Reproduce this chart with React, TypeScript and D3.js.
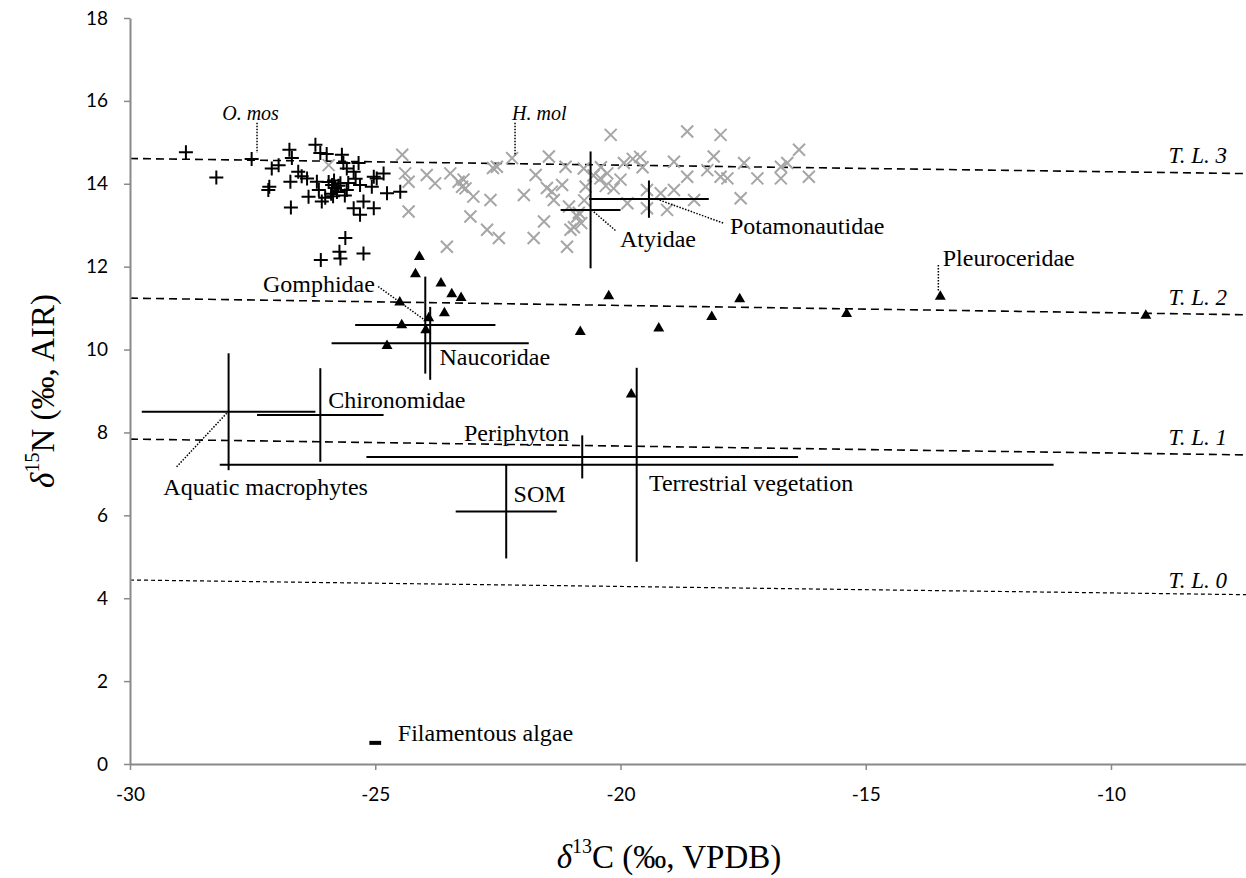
import React, { useEffect, useRef } from 'react';
import * as d3 from 'd3';

const xTicks = [-30, -25, -20, -15, -10];
const yTicks = [0, 2, 4, 6, 8, 10, 12, 14, 16, 18];

// O. mos individuals (black plus)
const omos: [number, number][] = [
  [-28.86, 14.76], [-28.24, 14.15], [-27.52, 14.6], [-27.18, 13.85], [-27.16, 13.93],
  [-27.11, 14.37], [-26.97, 14.45], [-26.75, 14.82], [-26.7, 14.62], [-26.73, 14.05],
  [-26.72, 13.43], [-26.57, 14.29], [-26.5, 14.18], [-26.39, 14.13], [-26.36, 13.69],
  [-26.22, 14.94], [-26.19, 14.05], [-26.12, 14.74], [-26.15, 13.85], [-26.09, 13.57],
  [-26.02, 13.66], [-25.99, 14.72], [-25.95, 14.04], [-25.9, 13.76], [-25.88, 13.97],
  [-25.84, 14.08], [-25.82, 13.9], [-25.78, 13.8], [-25.75, 13.95], [-25.86, 13.7],
  [-25.68, 14.7], [-25.65, 14.5], [-25.71, 14.01], [-25.62, 13.72], [-25.58, 13.85],
  [-25.55, 14.02], [-25.58, 14.37], [-25.44, 14.29], [-25.34, 14.5], [-25.4, 14.12],
  [-25.31, 13.97], [-25.24, 13.57], [-25.31, 13.25], [-25.44, 13.41], [-25.07, 13.93],
  [-25.03, 14.17], [-25.03, 13.41], [-24.97, 14.13], [-24.83, 14.25], [-24.76, 13.77],
  [-24.49, 13.81], [-25.61, 12.69], [-25.73, 12.36], [-25.71, 12.2], [-26.11, 12.16],
  [-25.24, 12.32],
];

// H. mol individuals (grey cross)
const hmol: [number, number][] = [
  [-25.95, 14.45], [-24.45, 14.7], [-24.39, 14.25], [-24.32, 14.05], [-24.32, 13.33],
  [-23.95, 14.21], [-23.78, 14.01], [-23.47, 14.25], [-23.3, 14.05], [-23.23, 13.93],
  [-23.16, 13.89], [-23.2, 14.1], [-23.0, 13.69], [-23.06, 13.21], [-22.65, 13.61],
  [-22.72, 12.89], [-22.48, 12.69], [-23.54, 12.48], [-22.52, 14.41], [-22.21, 14.62],
  [-22.6, 14.38], [-21.97, 13.73], [-21.73, 14.21], [-21.77, 12.69], [-21.56, 13.09],
  [-21.46, 14.66], [-21.4, 13.81], [-21.36, 13.61], [-21.5, 13.9], [-21.19, 13.97],
  [-21.12, 14.41], [-21.05, 13.45], [-21.09, 12.48], [-20.88, 13.21], [-20.8, 13.05],
  [-20.95, 12.95], [-20.85, 13.3], [-21.02, 12.89], [-20.75, 14.37], [-20.71, 13.93],
  [-20.74, 13.6], [-20.55, 14.2], [-20.41, 14.13], [-20.4, 14.4], [-20.3, 13.95],
  [-20.27, 14.25], [-20.2, 15.18], [-20.14, 13.89], [-20.0, 14.1], [-19.93, 14.5],
  [-19.86, 13.53], [-19.75, 14.6], [-19.6, 14.65], [-19.55, 14.4], [-19.46, 13.85],
  [-19.46, 13.41], [-19.18, 13.77], [-19.05, 13.37], [-18.91, 13.85], [-18.91, 14.53],
  [-18.64, 15.26], [-18.64, 14.17], [-18.5, 13.61], [-18.23, 14.33], [-18.1, 14.66],
  [-17.96, 15.18], [-17.96, 14.17], [-17.82, 14.13], [-17.55, 13.65], [-17.48, 14.5],
  [-17.21, 14.13], [-16.73, 14.41], [-16.6, 14.5], [-16.73, 14.13], [-16.36, 14.82],
  [-16.16, 14.17],
];

// other invertebrates (black triangle)
const inverts: [number, number][] = [
  [-24.1, 12.24], [-24.18, 11.82], [-23.66, 11.6], [-23.44, 11.34], [-23.25, 11.25],
  [-24.5, 11.14], [-23.59, 10.88], [-23.91, 10.76], [-24.46, 10.59], [-23.97, 10.47],
  [-24.76, 10.09], [-20.24, 11.29], [-20.82, 10.43], [-19.22, 10.51], [-19.78, 8.92],
  [-17.57, 11.22], [-18.14, 10.79], [-15.39, 10.86], [-13.48, 11.28], [-9.29, 10.82],
];

// group means with SD bars
const groupNames = ['Aquatic macrophytes', 'Chironomidae', 'Gomphidae', 'Naucoridae', 'Atyidae',
  'Potamonautidae', 'Periphyton', 'Terrestrial vegetation', 'SOM', 'Filamentous algae'];
const groupC = [-27.99, -26.12, -23.98, -23.88, -20.61, -19.42, -20.78, -19.67, -22.33, -25.0];
const groupN = [8.5, 8.42, 10.59, 10.15, 13.37, 13.63, 7.41, 7.22, 6.09, 0.51];
const groupCsd = [1.77, 1.29, 1.43, 2.01, 0.61, 1.22, 4.4, 8.5, 1.03, 0.12];
const groupNsd = [1.41, 1.13, 1.17, 0.88, 1.41, 0.45, 0.52, 2.34, 1.13, 0];

// trophic level lines, value at -30 and at -5
const tlNames = ['T. L. 3', 'T. L. 2', 'T. L. 1', 'T. L. 0'];
const tlStart = [14.61, 11.24, 7.84, 4.44];
const tlEnd = [14.21, 10.8, 7.42, 4.05];
const tlLabelY = [14.5, 11.08, 7.7, 4.25];

// text labels: [text, x, y, italic]
const labels: [string, number, number, boolean][] = [
  ['O. mos', -28.12, 15.55, true],
  ['H. mol', -22.21, 15.55, true],
  ['Atyidae', -20.01, 12.48, false],
  ['Potamonautidae', -17.77, 12.79, false],
  ['Pleuroceridae', -13.43, 12.02, false],
  ['Gomphidae', -27.29, 11.39, false],
  ['Naucoridae', -23.69, 9.63, false],
  ['Chironomidae', -25.96, 8.59, false],
  ['Aquatic macrophytes', -29.32, 6.49, false],
  ['Periphyton', -23.19, 7.79, false],
  ['Terrestrial vegetation', -19.42, 6.59, false],
  ['SOM', -22.18, 6.32, false],
  ['Filamentous algae', -24.54, 0.555, false],
];

// dotted leaders: [x1, y1, x2, y2]
const leaders: [number, number, number, number][] = [
  [-27.41, 15.47, -27.41, 14.74],
  [-22.15, 15.47, -22.15, 14.67],
  [-20.59, 13.37, -20.08, 12.85],
  [-19.26, 13.63, -17.9, 13.05],
  [-13.52, 12.04, -13.52, 11.4],
  [-24.94, 11.52, -23.99, 10.71],
  [-29.05, 7.17, -28.0, 8.5],
];

const W = 1246;
const H = 878;
const serif = '"Liberation Serif", "Times New Roman", serif';

const App: React.FC = () => {
  const svgRef = useRef<SVGSVGElement>(null);

  useEffect(() => {
    if (!svgRef.current) return;
    const svg = d3.select(svgRef.current);
    svg.selectAll('*').remove();

    const x = d3.scaleLinear().domain([-30, -5]).range([130, 1356.25]);
    const y = d3.scaleLinear().domain([0, 18]).range([764, 18]);

    // trophic level lines
    tlNames.forEach((name, i) => {
      svg.append('line')
        .attr('x1', x(-30)).attr('y1', y(tlStart[i]))
        .attr('x2', x(-5)).attr('y2', y(tlEnd[i]))
        .attr('stroke', '#000')
        .attr('stroke-width', i === 3 ? 1.2 : 1.6)
        .attr('stroke-dasharray', i === 3 ? '4,3' : '8,5');
      svg.append('text')
        .attr('x', 1227).attr('y', y(tlLabelY[i]))
        .attr('text-anchor', 'end')
        .attr('font-family', serif).attr('font-style', 'italic')
        .attr('font-size', 23)
        .text(name);
    });

    // O. mos pluses
    const s = 7;
    svg.append('g').selectAll('path').data(omos).join('path')
      .attr('d', d => `M${x(d[0]) - s},${y(d[1])}h${2 * s}M${x(d[0])},${y(d[1]) - s}v${2 * s}`)
      .attr('stroke', '#000').attr('stroke-width', 2).attr('fill', 'none');

    // H. mol crosses
    const c = 6;
    svg.append('g').selectAll('path').data(hmol).join('path')
      .attr('d', d => `M${x(d[0]) - c},${y(d[1]) - c}l${2 * c},${2 * c}M${x(d[0]) - c},${y(d[1]) + c}l${2 * c},${-2 * c}`)
      .attr('stroke', '#a6a6a6').attr('stroke-width', 2).attr('fill', 'none');

    // triangles
    const tri = d3.symbol().type(d3.symbolTriangle).size(52);
    svg.append('g').selectAll('path').data(inverts).join('path')
      .attr('transform', d => `translate(${x(d[0])},${y(d[1])})`)
      .attr('d', tri() as string)
      .attr('fill', '#000');

    // group SD crosses
    const g = svg.append('g').attr('stroke', '#000').attr('fill', 'none');
    groupNames.forEach((name, i) => {
      const cx = groupC[i];
      const cy = groupN[i];
      const w = name === 'Filamentous algae' ? 4 : 2;
      g.append('line')
        .attr('x1', x(cx - groupCsd[i])).attr('x2', x(cx + groupCsd[i]))
        .attr('y1', y(cy)).attr('y2', y(cy))
        .attr('stroke-width', w);
      if (groupNsd[i] > 0) {
        g.append('line')
          .attr('x1', x(cx)).attr('x2', x(cx))
          .attr('y1', y(cy - groupNsd[i])).attr('y2', y(cy + groupNsd[i]))
          .attr('stroke-width', w);
      }
    });

    // leaders
    svg.append('g').selectAll('line').data(leaders).join('line')
      .attr('x1', d => x(d[0])).attr('y1', d => y(d[1]))
      .attr('x2', d => x(d[2])).attr('y2', d => y(d[3]))
      .attr('stroke', '#000').attr('stroke-width', 1.5)
      .attr('stroke-dasharray', '1.5,1.5');

    // labels
    svg.append('g').selectAll('text').data(labels).join('text')
      .attr('x', d => x(d[1])).attr('y', d => y(d[2]))
      .attr('font-family', serif)
      .attr('font-size', d => (d[3] ? 20 : 24))
      .attr('font-style', d => (d[3] ? 'italic' : 'normal'))
      .text(d => d[0]);

    // axes
    const yAxis = svg.append('g')
      .attr('transform', 'translate(130,0)')
      .call(d3.axisLeft(y).tickValues(yTicks).tickSize(6).tickSizeOuter(0).tickPadding(16)
        .tickFormat(d => String(d)));
    const xAxis = svg.append('g')
      .attr('transform', 'translate(0,764)')
      .call(d3.axisBottom(x).tickValues(xTicks).tickSize(6).tickSizeOuter(0).tickPadding(18)
        .tickFormat(d => String(d)));
    [yAxis, xAxis].forEach(ax => {
      ax.select('.domain').attr('stroke', '#898989').attr('stroke-width', 2);
      ax.selectAll('.tick line').attr('stroke', '#898989').attr('stroke-width', 1.5);
      ax.selectAll('.tick text')
        .attr('font-family', 'Lato, "Open Sans", sans-serif')
        .attr('font-size', 19)
        .attr('fill', '#000');
    });

    // axis titles
    const yt = svg.append('text')
      .attr('transform', 'translate(54,391) rotate(-90)')
      .attr('text-anchor', 'middle')
      .attr('font-family', serif)
      .attr('font-size', 33);
    yt.append('tspan').attr('font-style', 'italic').text('δ');
    yt.append('tspan').attr('font-size', 20).attr('dy', -15).text('15');
    yt.append('tspan').attr('dy', 15).text('N (‰, AIR)');

    const xt = svg.append('text')
      .attr('x', 669).attr('y', 868)
      .attr('text-anchor', 'middle')
      .attr('font-family', serif)
      .attr('font-size', 33);
    xt.append('tspan').attr('font-style', 'italic').text('δ');
    xt.append('tspan').attr('font-size', 20).attr('dy', -15).text('13');
    xt.append('tspan').attr('dy', 15).text('C (‰, VPDB)');
  }, []);

  return (
    <div style={{ position: 'absolute', left: 0, top: 0, background: '#fff' }}>
      <svg ref={svgRef} width={W} height={H} viewBox={`0 0 ${W} ${H}`} style={{ display: 'block', overflow: 'hidden' }} />
    </div>
  );
};

export default App;
